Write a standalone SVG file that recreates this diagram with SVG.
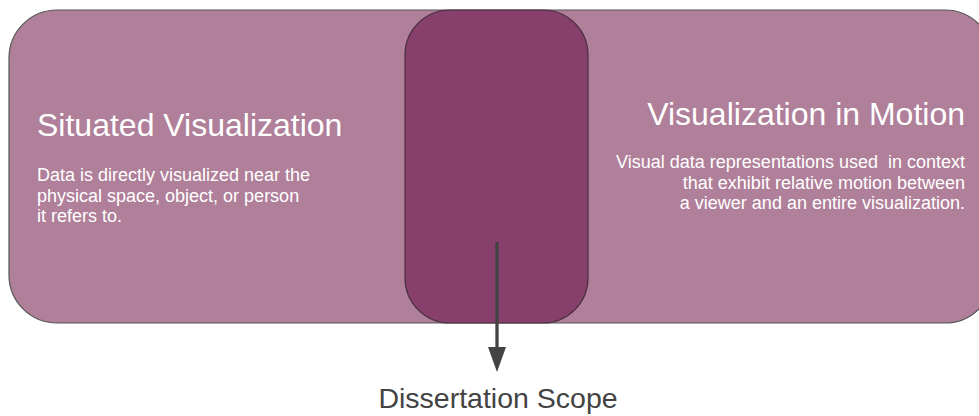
<svg xmlns="http://www.w3.org/2000/svg" width="979" height="416" viewBox="0 0 979 416">
  <defs>
    <marker id="arrow" viewBox="0 0 18 25" refX="9" refY="25" markerWidth="18" markerHeight="25" markerUnits="userSpaceOnUse" orient="auto-start-reverse">
      <path d="M0,0 L18,0 L9,25 Z" fill="#434343"/>
    </marker>
    <style>
      .outer { fill: #B07F9A; stroke: #555555; stroke-width: 1.2; }
      .inner { fill: #873F6B; stroke: #4a3040; stroke-width: 1.2; }
      .title { font-family: "Liberation Sans", Arial, sans-serif; font-size: 32px; fill: #FFFFFF; }
      .body { font-family: "Liberation Sans", Arial, sans-serif; font-size: 18px; fill: #FFFFFF; }
      .label { font-family: "Liberation Sans", Arial, sans-serif; font-size: 28.5px; fill: #434343; }
      .conn { stroke: #434343; stroke-width: 3.3; fill: none; }
    </style>
  </defs>

  <g id="union">
    <rect class="outer" x="9" y="10" width="984" height="313" rx="48" ry="48"/>
  </g>

  <g id="situated-visualization">
    <text class="title" x="37" y="136">Situated Visualization</text>
    <text class="body" x="37" y="181">Data is directly visualized near the</text>
    <text class="body" x="37" y="201.5">physical space, object, or person</text>
    <text class="body" x="37" y="222">it refers to.</text>
  </g>

  <g id="visualization-in-motion">
    <text class="title" x="965" y="125" text-anchor="end">Visualization in Motion</text>
    <text class="body" x="965" y="168" text-anchor="end" xml:space="preserve">Visual data representations used  in context</text>
    <text class="body" x="965" y="188.5" text-anchor="end">that exhibit relative motion between</text>
    <text class="body" x="965" y="209" text-anchor="end">a viewer and an entire visualization.</text>
  </g>

  <g id="intersection">
    <rect class="inner" x="405" y="10" width="183" height="313" rx="45" ry="45"/>
  </g>

  <g id="connectors">
    <line class="conn" x1="497" y1="242" x2="497" y2="350"/>
    <path d="M488,347 L506,347 L497,372 Z" fill="#434343"/>
  </g>

  <g id="dissertation-scope">
    <text class="label" x="498" y="408" text-anchor="middle">Dissertation Scope</text>
  </g>
</svg>
